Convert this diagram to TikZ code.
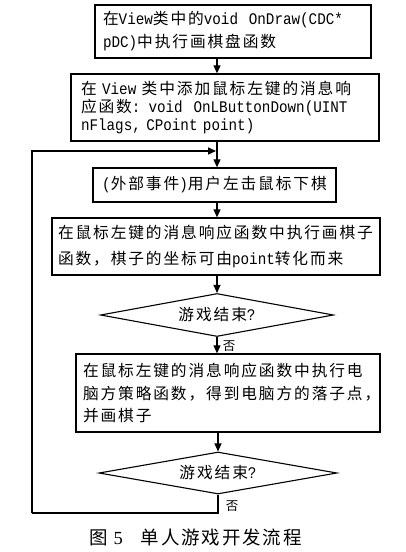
\documentclass[tikz,border=0pt]{standalone}
\usepackage{fontspec}
\setmainfont[FakeStretch=0.88]{Liberation Mono}
\newfontfamily\cjk[Scale=0.97,LetterSpace=12]{Noto Sans CJK SC}
\newfontfamily\capcjk[LetterSpace=10]{Noto Sans CJK SC}
\newfontfamily\capnum{Liberation Serif}
\usetikzlibrary{shapes.geometric,arrows.meta}
\newcommand\zh[1]{{\cjk #1}}
\tikzset{
  box/.style={draw, line width=1.3pt, rectangle, align=left, inner ysep=0pt},
  dia/.style={draw, line width=1.1pt, diamond, inner sep=0pt, aspect=5.4},
  arr/.style={line width=1.1pt, -{Triangle[length=8pt,width=7pt]}},
  loopline/.style={line width=1.6pt},
  lbl/.style={inner sep=0pt, font=\capcjk\fontsize{12.5}{14}\selectfont},
}
\begin{document}
\begin{tikzpicture}[x=1pt,y=-1pt]
\useasboundingbox (0,0) rectangle (405,552);
\coordinate (spine) at (217,0);

\node[box, minimum width=276, minimum height=53, inner xsep=8pt, text width=260pt,
  font=\fontsize{16.2}{23}\selectfont] (b1) at (233,31.5)
  {\zh{在}View\zh{类中的}void\ \ OnDraw(CDC*\\pDC)\zh{中执行画棋盘函数}};

\node[box, minimum width=308, minimum height=67, inner xsep=10pt, text width=288pt,
  font=\fontsize{16.2}{18}\selectfont] (b2) at (225,107.5)
  {\zh{在} View \zh{类中添加鼠标左键的消息响}\\\zh{应函数}: void\ \ OnLButtonDown(UINT\\nFlags, CPoint point)};

\node[box, minimum width=243, minimum height=34, inner xsep=4pt, text width=235pt, align=center,
  font=\fontsize{16.2}{18}\selectfont] (b3) at (214.5,185)
  {(\zh{外部事件})\zh{用户左击鼠标下棋}};

\node[box, minimum width=328, minimum height=57, inner xsep=6pt, text width=316pt,
  font=\fontsize{16.2}{26}\selectfont] (b4) at (216,246.5)
  {\zh{在鼠标左键的消息响应函数中执行画棋子}\\\zh{函数，棋子的坐标可由}point\zh{转化而来}};

\node[dia, minimum width=233, minimum height=43, font=\fontsize{16.2}{18}\selectfont] (d1) at (217,315)
  {\zh{游戏结束}?};

\node[box, minimum width=304, minimum height=78, inner xsep=7pt, text width=290pt,
  font=\fontsize{16.2}{22.5}\selectfont] (b5) at (228,393)
  {\zh{在鼠标左键的消息响应函数中执行电}\\\zh{脑方策略函数，得到电脑方的落子点，}\\\zh{并画棋子}};

\node[dia, minimum width=238, minimum height=42, font=\fontsize{16.2}{18}\selectfont] (d2) at (218,473)
  {\zh{游戏结束}?};

\draw[arr] (b1.south -| spine) -- (b2.north -| spine);
\draw[arr] (b2.south -| spine) -- (b3.north -| spine);
\draw[arr] (b3.south -| spine) -- (b4.north -| spine);
\draw[arr] (b4.south -| spine) -- (d1.north);
\draw[arr] (d1.south) -- (b5.north -| d1.south);
\draw[arr] (b5.south -| d2.north) -- (d2.north);

\node[lbl] (no1) at (229,346) {否};
\node[lbl] (no2) at (232,506) {否};

\coordinate (lc) at (32,513);
\coordinate (join) at (216,151);
\draw[loopline] (d2.south) |- (lc);
\draw[loopline, arr, line width=1.6pt] (lc) |- (join);

\node[inner sep=0pt, font=\fontsize{18.5}{20}\selectfont] (cap) at (195.5,537)
  {{\capcjk 图}\hspace{6pt}{\capnum 5}\hspace{18pt}{\capcjk 单人游戏开发流程}};
\end{tikzpicture}
\end{document}
